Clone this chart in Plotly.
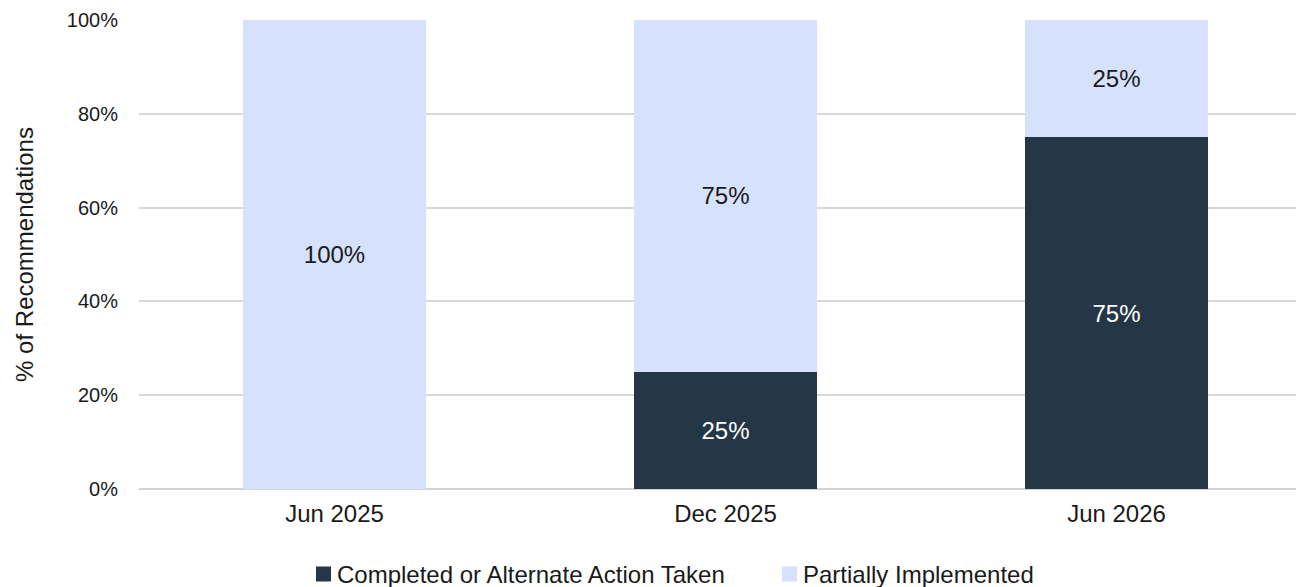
import plotly.graph_objects as go

periods = ["Jun 2025", "Dec 2025", "Jun 2026"]
completed = [0, 25, 75]
partial = [100, 75, 25]
series_names = ["Completed or Alternate Action Taken", "Partially Implemented"]
y_ticks = [0, 20, 40, 60, 80, 100]
y_tick_labels = ["0%", "20%", "40%", "60%", "80%", "100%"]

DARK = "#253746"
LIGHT = "#d5e1fd"
COLORS = [DARK, LIGHT]
FONT = "Liberation Sans, Arial, sans-serif"
TEXT = "#1a1a1a"

W, H = 1296, 587
L, R, T, B = 139, 0, 20, 98
PW, PH = W - L - R, H - T - B


def labels(values):
    return [f"{v}%" if v > 0 else "" for v in values]


def px_x(x):
    return (x - L) / PW


def px_y(y):
    return (H - B - y) / PH


fig = go.Figure()
fig.add_trace(go.Bar(
    x=periods, y=completed, name=series_names[0],
    marker=dict(color=DARK, line=dict(width=0)),
    text=labels(completed), textposition="inside", insidetextanchor="middle",
    textfont=dict(color="white", size=24, family=FONT),
    width=0.468, showlegend=False,
))
fig.add_trace(go.Bar(
    x=periods, y=partial, name=series_names[1],
    marker=dict(color=LIGHT, line=dict(width=0)),
    text=labels(partial), textposition="inside", insidetextanchor="middle",
    textfont=dict(color=TEXT, size=24, family=FONT),
    width=0.468, showlegend=False,
))

# Legend row drawn below the axis: square swatch followed by the series name
legend_x = [316, 782]
legend_cy = 574
sw = 15
for name, color, lx in zip(series_names, COLORS, legend_x):
    fig.add_shape(
        type="rect", xref="paper", yref="paper",
        x0=px_x(lx), x1=px_x(lx + sw),
        y0=px_y(legend_cy + sw / 2), y1=px_y(legend_cy - sw / 2),
        fillcolor=color, line=dict(width=0),
    )
    fig.add_annotation(
        xref="paper", yref="paper", x=px_x(lx + sw + 4), y=px_y(legend_cy),
        xanchor="left", yanchor="middle", text=name, showarrow=False,
        font=dict(size=24, color=TEXT, family=FONT),
    )

fig.update_layout(
    barmode="stack",
    width=W, height=H,
    margin=dict(l=L, r=R, t=T, b=B),
    paper_bgcolor="white", plot_bgcolor="white",
    font=dict(family=FONT, size=24, color=TEXT),
    uniformtext=dict(mode="show", minsize=24),
    showlegend=False,
)
fig.update_xaxes(
    range=[-0.5, 2.459], showgrid=False, showline=False, ticks="",
    ticklabelstandoff=8, tickfont=dict(size=24),
)
fig.update_yaxes(
    range=[0, 100], tickvals=y_ticks, ticktext=y_tick_labels,
    showgrid=True, gridcolor="#d9d9d9", gridwidth=2,
    zeroline=True, zerolinecolor="#d4d4d4", zerolinewidth=2,
    showline=False, ticks="", ticklabelstandoff=20, tickfont=dict(size=20),
    title=dict(text="% of Recommendations", font=dict(size=24), standoff=26),
)

fig.write_html("out.html")
